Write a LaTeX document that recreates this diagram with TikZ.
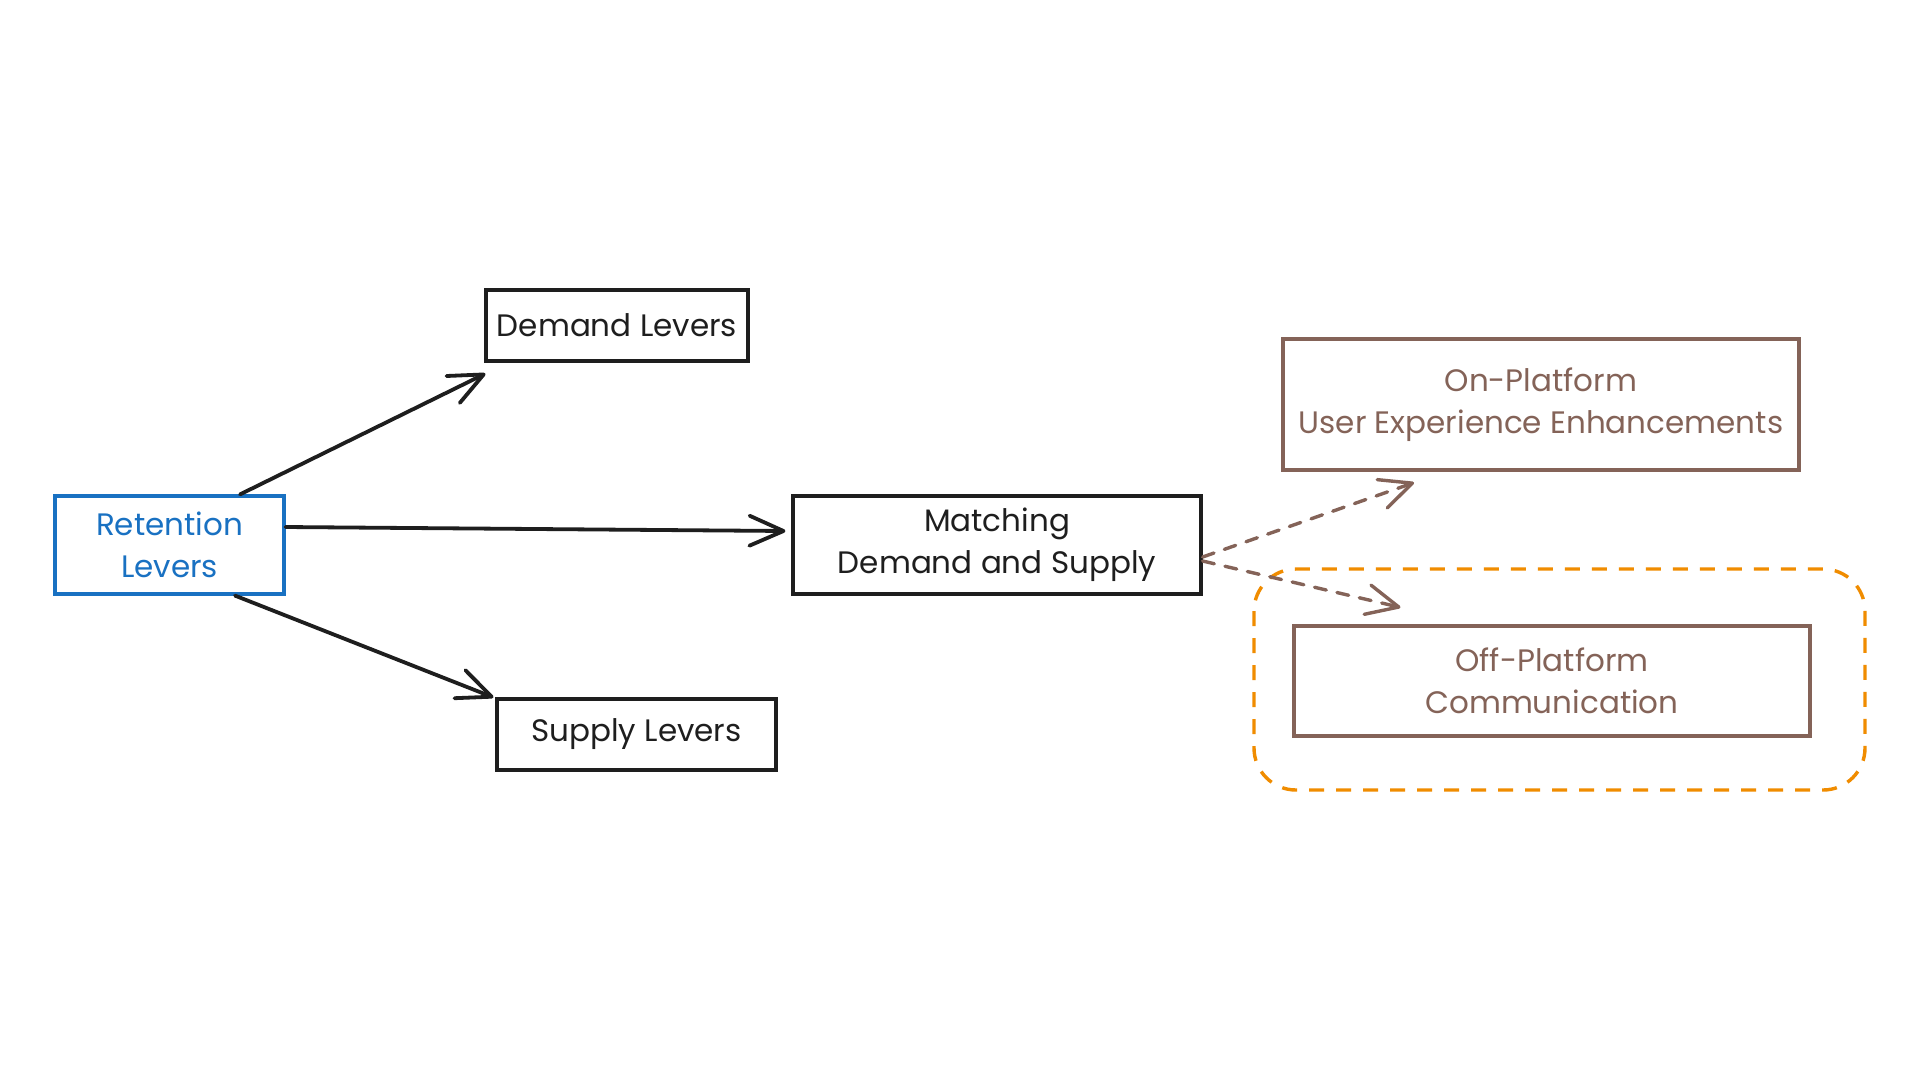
\documentclass[tikz,border=0pt]{standalone}
\usepackage{fontspec}
\setmainfont{Poppins}
\usetikzlibrary{arrows.meta,calc}
\definecolor{exblue}{HTML}{1971C2}
\definecolor{exbrown}{HTML}{846358}
\definecolor{exorange}{HTML}{F08C00}
\definecolor{exblack}{HTML}{1E1E1E}
\begin{document}
\begin{tikzpicture}[x=1pt,y=-1pt,
  box/.style={draw=exblack,line width=3.2pt,fill=white,inner sep=0pt,align=center,
    font=\fontsize{31}{42}\selectfont,text=exblack},
  bluebox/.style={box,draw=exblue,text=exblue},
  brownbox/.style={box,draw=exbrown,text=exbrown},
  link/.style={draw=exblack,line width=3.8pt,line cap=round,
    -{Straight Barb[length=34pt,width=30pt,line width=3.8pt,round]}},
  dlink/.style={draw=exbrown,line width=3.4pt,line cap=round,dash pattern=on 12pt off 11pt,
    -{Straight Barb[length=32pt,width=30pt,line width=3.4pt,round]}},
  grp/.style={draw=exorange,line width=3.4pt,dash pattern=on 15pt off 12pt,rounded corners=42pt}
]
\useasboundingbox[fill=white] (0,0) rectangle (1920,1080);

\node[bluebox,minimum width=229pt,minimum height=98pt] (ret) at (169.5,545) {Retention\\Levers};
\node[box,minimum width=262pt,minimum height=71pt] (dem) at (617,325.5) {Demand Levers};
\node[box,minimum width=408pt,minimum height=98pt] (mat) at (997,545) {Matching\\Demand and Supply};
\node[box,minimum width=279pt,minimum height=71pt] (sup) at (636.5,734.5) {Supply Levers};
\node[brownbox,minimum width=516pt,minimum height=131pt] (on) at (1541,404.5) {On-Platform\\User Experience Enhancements};
\node[brownbox,minimum width=516pt,minimum height=110pt] (off) at (1552,681) {Off-Platform\\Communication};

\draw[grp] (1254,569) rectangle (1865,790);

\draw[link] ([xshift=70.5pt]ret.north) -- ([xshift=1pt,yshift=-11pt]dem.south west);
\draw[link] ([yshift=18pt]ret.east) -- ([xshift=-6pt,yshift=14pt]mat.west);
\draw[link] ([xshift=65.5pt]ret.south) -- ([xshift=-2pt]sup.north west);
\draw[dlink] ([yshift=-12pt]mat.east) -- ([xshift=-127pt,yshift=-11pt]on.south);
\draw[dlink] ([yshift=-16pt]mat.east) -- ([xshift=108pt,yshift=17pt]off.north west);
\end{tikzpicture}
\end{document}
